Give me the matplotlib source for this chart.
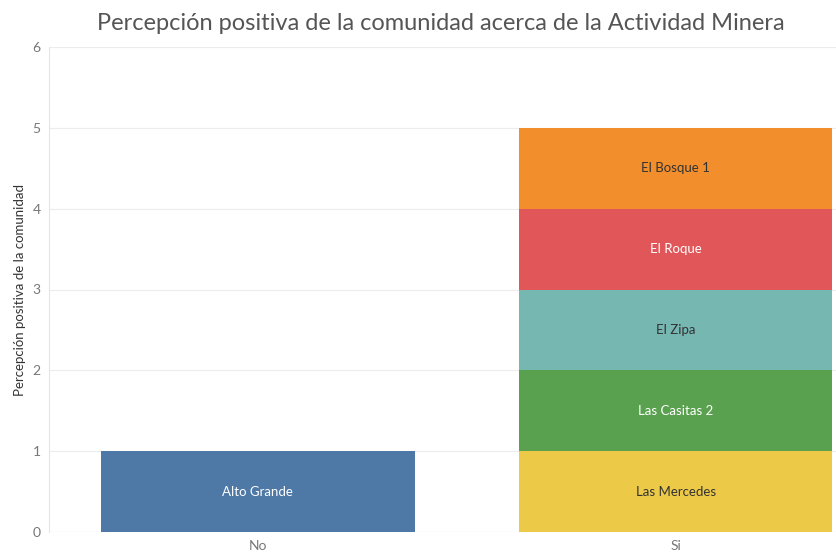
import matplotlib
matplotlib.use("Agg")
import matplotlib.pyplot as plt

# Data
categories = ["No", "Si"]
segments = [
    # (category, community, value)
    ("No", "Alto Grande", 1),
    ("Si", "Las Mercedes", 1),
    ("Si", "Las Casitas 2", 1),
    ("Si", "El Zipa", 1),
    ("Si", "El Roque", 1),
    ("Si", "El Bosque 1", 1),
]
colors = {
    "Alto Grande": "#4e79a7",
    "Las Mercedes": "#edc948",
    "Las Casitas 2": "#59a14f",
    "El Zipa": "#76b7b2",
    "El Roque": "#e15759",
    "El Bosque 1": "#f28e2b",
}
text_colors = {
    "Alto Grande": "white",
    "Las Mercedes": "#333333",
    "Las Casitas 2": "white",
    "El Zipa": "#333333",
    "El Roque": "white",
    "El Bosque 1": "#333333",
}
y_ticks = [0, 1, 2, 3, 4, 5, 6]

plt.rcParams["font.family"] = ["Lato", "DejaVu Sans"]

fig = plt.figure(figsize=(8.37, 5.59), dpi=100)
W, H = 837, 559
ax = fig.add_axes([49 / W, (H - 532) / H, (837 - 49) / W, (532 - 47) / H])

bottoms = {c: 0 for c in categories}
for cat, name, val in segments:
    x = categories.index(cat)
    ax.bar(x, val, bottom=bottoms[cat], width=0.75, color=colors[name],
           edgecolor="none", zorder=3)
    ax.text(x, bottoms[cat] + val / 2, name, ha="center", va="center",
            fontsize=9.5, color=text_colors[name], zorder=4)
    bottoms[cat] += val

ax.set_xlim(-0.5, 1.386)
ax.set_ylim(0, 6)
ax.set_yticks(y_ticks)
ax.set_yticklabels([str(t) for t in y_ticks])
ax.set_xticks(range(len(categories)))
ax.set_xticklabels(categories)

ax.grid(axis="y", color="#ececec", linewidth=0.8, zorder=0)
ax.grid(axis="x", visible=False)
for side in ["top", "right", "bottom"]:
    ax.spines[side].set_visible(False)
ax.spines["left"].set_color("#e6e6e6")
ax.spines["left"].set_linewidth(0.8)
ax.axhline(0, color="#e6e6e6", linewidth=0.8, zorder=2)
ax.tick_params(axis="both", length=0, colors="#777777", labelsize=10)
ax.tick_params(axis="y", pad=6)
ax.tick_params(axis="x", pad=6)

ax.set_ylabel("Percepción positiva de la comunidad", fontsize=9.5,
              color="#333333", labelpad=5)

fig.text(441 / W, 1 - 23 / H,
         "Percepción positiva de la comunidad acerca de la Actividad Minera",
         ha="center", va="center", fontsize=17, color="#555555")

fig.savefig("out.png", dpi=100)
